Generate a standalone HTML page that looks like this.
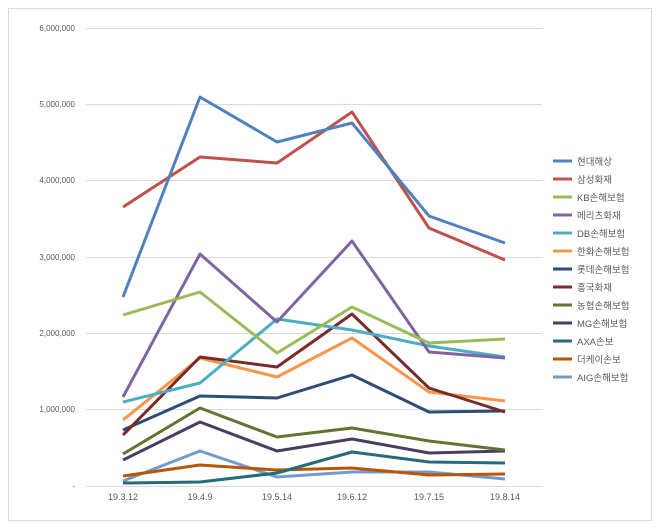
<!DOCTYPE html>
<html><head><meta charset="utf-8"><style>
body{margin:0;background:#fff;}
svg{display:block;font-family:"Liberation Sans","Noto Sans CJK KR",sans-serif;}
</style></head><body>
<svg width="660" height="529" viewBox="0 0 660 529">
<rect x="8.5" y="8.5" width="643" height="512" fill="#fff" stroke="#d9d9d9"/>
<g stroke="#d9d9d9" stroke-width="1">
<line x1="86" x2="542" y1="28.5" y2="28.5"/><line x1="86" x2="542" y1="104.5" y2="104.5"/>
<line x1="86" x2="542" y1="180.5" y2="180.5"/><line x1="86" x2="542" y1="257.5" y2="257.5"/>
<line x1="86" x2="542" y1="333.5" y2="333.5"/><line x1="86" x2="542" y1="409.5" y2="409.5"/>
<line x1="86" x2="542" y1="486.5" y2="486.5"/>
</g>
<g font-size="8" fill="#595959" text-anchor="end">
<text x="75" y="31">6,000,000</text><text x="75" y="107">5,000,000</text>
<text x="75" y="183">4,000,000</text><text x="75" y="260">3,000,000</text>
<text x="75" y="336">2,000,000</text><text x="75" y="412">1,000,000</text>
<text x="75" y="489">-</text>
</g>
<g font-size="9" fill="#595959" text-anchor="middle">
<text x="123" y="500">19.3.12</text><text x="200" y="500">19.4.9</text><text x="277" y="500">19.5.14</text>
<text x="352" y="500">19.6.12</text><text x="429" y="500">19.7.15</text><text x="505" y="500">19.8.14</text>
</g>
<g fill="none" stroke-width="3" stroke-linejoin="round">
<polyline stroke="#729ACA" points="123,481 200,451 277,477 352,472 429,472 505,479"/>
<polyline stroke="#B65708" points="123,476 200,465 277,470 352,468 429,475 505,474"/>
<polyline stroke="#276A7C" points="123,483 200,482 277,473 352,452 429,462 505,463"/>
<polyline stroke="#4D3B62" points="123,460 200,422 277,451 352,439 429,453 505,451"/>
<polyline stroke="#5F7530" points="123,454 200,408 277,437 352,428 429,441 505,450"/>
<polyline stroke="#2C4D75" points="123,430 200,396 277,398 352,375 429,412 505,411"/>
<polyline stroke="#F79646" points="123,420 200,358 277,377 352,338 429,392 505,401"/>
<polyline stroke="#772C2A" points="123,435 200,357 277,367 352,314 429,388 505,412"/>
<polyline stroke="#4BACC6" points="123,402 200,383 277,319 352,330 429,346 505,357"/>
<polyline stroke="#8064A2" points="123,397 200,254 277,322 352,241 429,352 505,358"/>
<polyline stroke="#9BBB59" points="123,315 200,292 277,353 352,307 429,343 505,339"/>
<polyline stroke="#C0504D" points="123,207 200,157 277,163 352,112 429,228 505,260"/>
<polyline stroke="#4F81BD" points="123,297 200,97 277,142 352,123 429,216 505,243"/>
</g>
<g font-size="9.5" fill="#595959">
<g stroke-width="3">
<line x1="553" x2="572" y1="161" y2="161" stroke="#4F81BD"/>
<line x1="553" x2="572" y1="179" y2="179" stroke="#C0504D"/>
<line x1="553" x2="572" y1="197" y2="197" stroke="#9BBB59"/>
<line x1="553" x2="572" y1="215" y2="215" stroke="#8064A2"/>
<line x1="553" x2="572" y1="233" y2="233" stroke="#4BACC6"/>
<line x1="553" x2="572" y1="251" y2="251" stroke="#F79646"/>
<line x1="553" x2="572" y1="269" y2="269" stroke="#2C4D75"/>
<line x1="553" x2="572" y1="287" y2="287" stroke="#772C2A"/>
<line x1="553" x2="572" y1="305" y2="305" stroke="#5F7530"/>
<line x1="553" x2="572" y1="323" y2="323" stroke="#4D3B62"/>
<line x1="553" x2="572" y1="341" y2="341" stroke="#276A7C"/>
<line x1="553" x2="572" y1="359" y2="359" stroke="#B65708"/>
<line x1="553" x2="572" y1="377" y2="377" stroke="#729ACA"/>
</g>
<text x="577" y="165">현대해상</text><text x="577" y="183">삼성화재</text>
<text x="577" y="201">KB손해보험</text><text x="577" y="219">메리츠화재</text>
<text x="577" y="237">DB손해보험</text><text x="577" y="255">한화손해보험</text>
<text x="577" y="273">롯데손해보험</text><text x="577" y="291">흥국화재</text>
<text x="577" y="309">농협손해보험</text><text x="577" y="327">MG손해보험</text>
<text x="577" y="345">AXA손보</text><text x="577" y="363">더케이손보</text>
<text x="577" y="381">AIG손해보험</text>
</g>
</svg>
</body></html>
